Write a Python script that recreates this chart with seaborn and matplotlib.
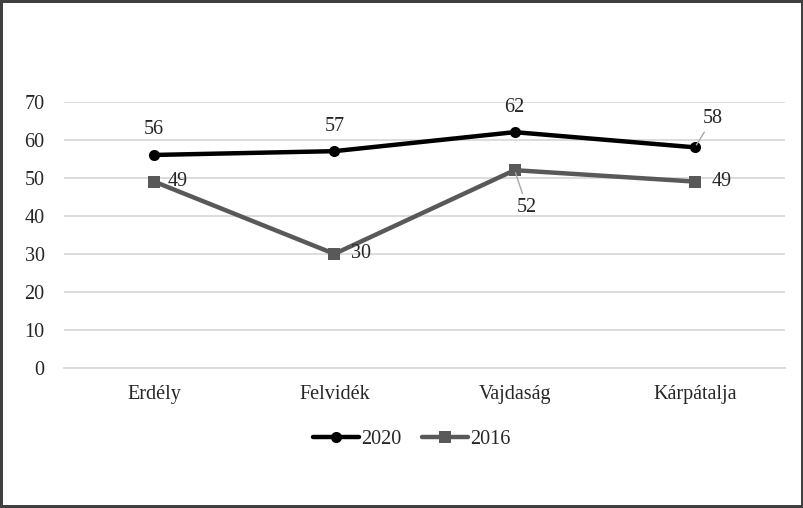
import matplotlib
matplotlib.use("Agg")
import matplotlib.pyplot as plt
import seaborn as sns
import pandas as pd
import numpy as np

regions = ["Erdély", "Felvidék", "Vajdaság", "Kárpátalja"]
vals_2020 = [56, 57, 62, 58]
vals_2016 = [49, 30, 52, 49]
yticks = [0, 10, 20, 30, 40, 50, 60, 70]

sns.set_style("white")
plt.rcParams['font.family'] = ['Liberation Serif', 'DejaVu Serif']

df = pd.DataFrame({
    "pos": list(range(len(regions))) * 2,
    "value": vals_2020 + vals_2016,
    "year": ["2020"] * 4 + ["2016"] * 4,
})

fig = plt.figure(figsize=(8.04, 5.08), dpi=100)
fig.patch.set_edgecolor("#404040")
fig.patch.set_linewidth(3)
ax = fig.add_axes([0.0796, 0.2756, 0.8968, 0.5242])

colors = {"2020": "#000000", "2016": "#595959"}
markers = {"2020": "o", "2016": "s"}
for yr in ["2020", "2016"]:
    sub = df[df["year"] == yr]
    sns.lineplot(data=sub, x="pos", y="value", ax=ax, color=colors[yr],
                 linewidth=3.2, marker=markers[yr], markersize=8,
                 markeredgewidth=0, label=yr, clip_on=False, zorder=3)

fs = 14.5
ax.set_xlim(-0.5, len(regions) - 0.5)
ax.set_ylim(0, 70)
ax.set_yticks(yticks)
ax.set_yticklabels([str(t) for t in yticks], fontsize=fs)
ax.set_xticks(range(len(regions)))
ax.set_xticklabels(regions, fontsize=fs)
ax.set_xticks(np.arange(-0.5, len(regions), 1.0), minor=True)
ax.tick_params(axis="x", which="major", length=0, pad=12)
ax.tick_params(axis="x", which="minor", length=6, color="#d9d9d9", width=1.3)
ax.tick_params(axis="y", length=0, pad=14)
ax.yaxis.grid(True, color="#d9d9d9", linewidth=1.3)
ax.set_axisbelow(True)
ax.set_xlabel("")
ax.set_ylabel("")
for s in ["top", "right", "left"]:
    ax.spines[s].set_visible(False)
ax.spines["bottom"].set_color("#d9d9d9")
ax.spines["bottom"].set_linewidth(1.3)

leader = dict(arrowstyle="-", color="#a6a6a6", lw=1, shrinkA=1, shrinkB=2)
# data labels 2020
ax.annotate("56", (0, 56), xytext=(0, 18), textcoords="offset points", ha="center", va="center", fontsize=fs)
ax.annotate("57", (1, 57), xytext=(0, 18), textcoords="offset points", ha="center", va="center", fontsize=fs)
ax.annotate("62", (2, 62), xytext=(0, 18), textcoords="offset points", ha="center", va="center", fontsize=fs)
ax.annotate("58", (3, 58), xytext=(13, 21), textcoords="offset points", ha="center", va="center", fontsize=fs,
            arrowprops=leader)
# data labels 2016
ax.annotate("49", (0, 49), xytext=(10, 0), textcoords="offset points", ha="left", va="center", fontsize=fs)
ax.annotate("30", (1, 30), xytext=(12, 0), textcoords="offset points", ha="left", va="center", fontsize=fs)
ax.annotate("52", (2, 52), xytext=(9, -27), textcoords="offset points", ha="center", va="center", fontsize=fs,
            arrowprops=leader)
ax.annotate("49", (3, 49), xytext=(12, 0), textcoords="offset points", ha="left", va="center", fontsize=fs)

handles, labels = ax.get_legend_handles_labels()
ax.legend_.remove()
fig.legend(handles, labels, loc="center", bbox_to_anchor=(0.512, 0.135), ncol=2,
           frameon=False, fontsize=fs, handlelength=2.3, handletextpad=0.1,
           columnspacing=1.0)

fig.savefig("out.png", dpi=100)
